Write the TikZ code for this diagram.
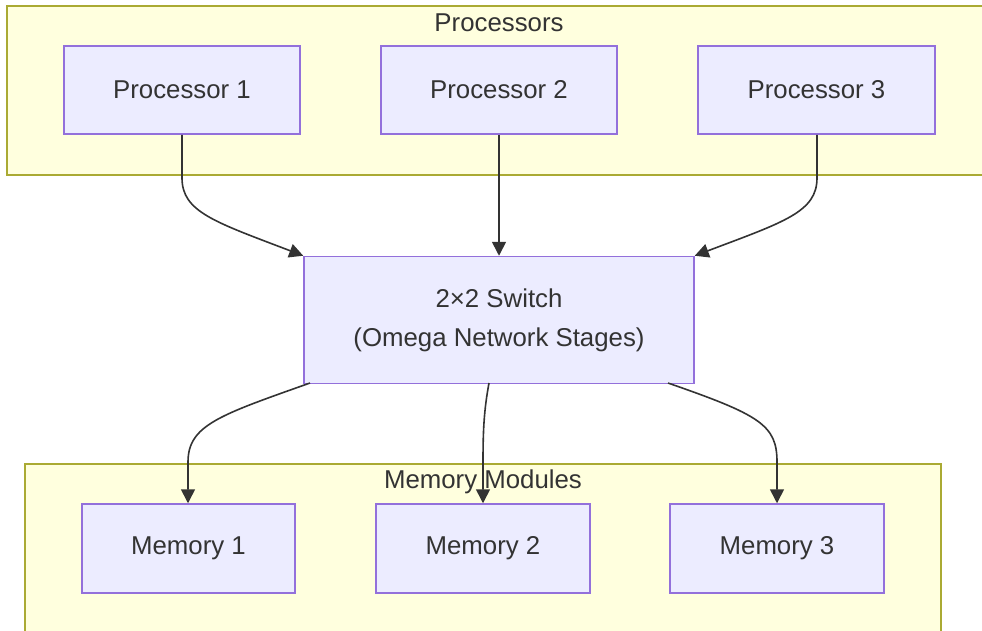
\documentclass[tikz,border=0pt]{standalone}
\usepackage{fontspec}
\setmainfont{Liberation Sans}
\usetikzlibrary{arrows.meta}
\definecolor{clusterfill}{HTML}{FFFFDE}
\definecolor{clusterline}{HTML}{AAAA33}
\definecolor{boxfill}{HTML}{ECECFF}
\definecolor{boxline}{HTML}{9370DB}
\definecolor{ink}{HTML}{333333}
\tikzset{
  group/.style={draw=clusterline, fill=clusterfill, line width=1.5pt},
  grouptitle/.style={text=ink, font=\fontsize{25.8}{30}\selectfont, inner sep=0pt},
  unit/.style={draw=boxline, fill=boxfill, line width=1.5pt, text=ink,
    font=\fontsize{25.8}{39}\selectfont, inner sep=0pt, align=center},
  link/.style={draw=ink, line width=1.6pt,
    -{Triangle[length=14pt,width=14pt]}},
}
\begin{document}
\begin{tikzpicture}[x=1pt,y=-1pt]
\useasboundingbox (0,0) rectangle (982,630);
\clip (0,0) rectangle (982,630);

% group frames
\draw[group] (7,6) rectangle (990,175);
\node[grouptitle] (ptitle) at (499,23) {Processors};
\draw[group] (25,464) rectangle (941,640);
\node[grouptitle] (mtitle) at (483,482) {Memory Modules};

% processors
\node[unit, minimum width=236pt, minimum height=88pt] (p1) at (182,90) {Processor 1};
\node[unit, minimum width=236pt, minimum height=88pt] (p2) at (499,90) {Processor 2};
\node[unit, minimum width=237pt, minimum height=88pt] (p3) at (816.5,90) {Processor 3};

% switch
\node[unit, minimum width=390pt, minimum height=127pt] (sw) at (499,320)
  {2×2 Switch\\(Omega Network Stages)};

% memories
\node[unit, minimum width=213pt, minimum height=89pt] (m1) at (188.5,548.5) {Memory 1};
\node[unit, minimum width=214pt, minimum height=89pt] (m2) at (483,548.5) {Memory 2};
\node[unit, minimum width=214pt, minimum height=89pt] (m3) at (777,548.5) {Memory 3};

% connectors
\coordinate (p1a) at (182,178);
\coordinate (p3a) at (817,178);
\draw[link] (p1.south) -- (p1a) .. controls (182,212) and (215,222) .. (sw.north west);
\draw[link] (p2.south) -- (sw.north);
\draw[link] (p3.south -| p3a) -- (p3a) .. controls (817,212) and (784,222) .. (sw.north east);

\coordinate (s1) at (310,383);
\coordinate (s2) at (489,383);
\coordinate (s3) at (668,383);
\coordinate (m1a) at (188,462);
\coordinate (m2a) at (483,462);
\coordinate (m3a) at (777,462);
\draw[link] (s1) .. controls (220,415) and (188,425) .. (m1a) -- (m1a |- m1.north);
\draw[link] (s2) .. controls (484,410) and (483,430) .. (m2a) -- (m2a |- m2.north);
\draw[link] (s3) .. controls (760,415) and (777,425) .. (m3a) -- (m3a |- m3.north);
\end{tikzpicture}
\end{document}
